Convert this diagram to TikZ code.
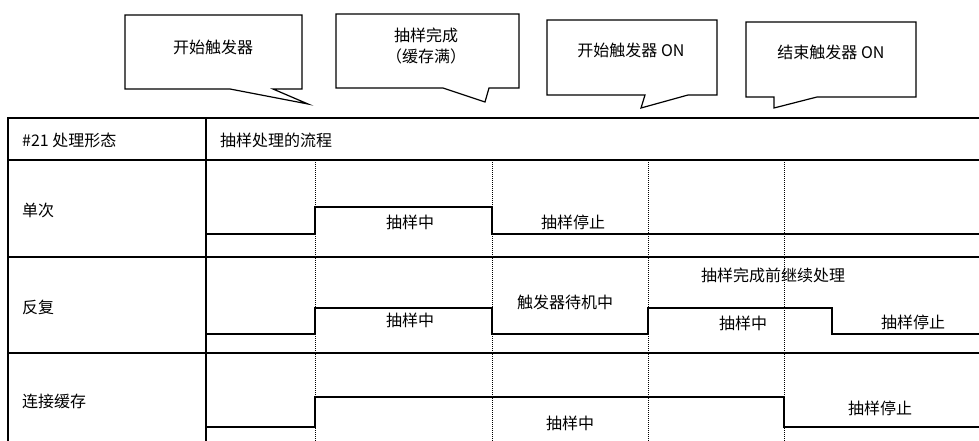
\documentclass[tikz,border=0pt]{standalone}
\usepackage{fontspec}
\setmainfont{Noto Sans CJK SC}

\begin{document}
\begin{tikzpicture}[x=1pt,y=-1pt,
    tbl/.style={line width=2pt},
    sig/.style={line width=1.4pt},
    guide/.style={dash pattern=on 1pt off 1pt,line width=1pt},
    bubble/.style={line width=1.2pt,line join=miter},
    lbl/.style={inner sep=0pt,font=\fontsize{16}{18}\selectfont}]
    \useasboundingbox (0,0) rectangle (979,441);
    % callouts
    \draw[bubble] (230,89) -- (125,89) -- (125,15) -- (302,15) -- (302,89) -- (273,89) -- (308,104) -- cycle;
    \draw[bubble] (443,88) -- (336,88) -- (336,14) -- (519,14) -- (519,88) -- (489,88) -- (485,102) -- cycle;
    \draw[bubble] (645,95) -- (547,95) -- (547,20) -- (717,20) -- (717,95) -- (688,95) -- (641,108) -- cycle;
    \draw[bubble] (774,97) -- (746,97) -- (746,22) -- (916,22) -- (916,97) -- (817,97) -- (774,108) -- cycle;
    \node[lbl] (trigstart) at (213,47) {开始触发器};
    \node[lbl] (sampdone) at (426,35) {抽样完成};
    \node[lbl] (buffull) at (426,56) {（缓存满）};
    \node[lbl] (starton) at (631,50) {开始触发器 ON};
    \node[lbl] (endon) at (831,52) {结束触发器 ON};
    % table
    \draw[tbl] (979,118) -- (8,118) -- (8,441);
    \draw[tbl] (206,118) -- (206,441);
    \foreach \y in {160,257,353}
        \draw[tbl] (8,\y) -- (979,\y);
    \foreach \x in {315,492,648,784}
        \draw[guide] (\x,160) -- (\x,441);
    \node[lbl,anchor=west] (hdmode) at (22,140) {\#21 处理形态};
    \node[lbl,anchor=west] (hdflow) at (220,140) {抽样处理的流程};
    \node[lbl,anchor=west] (single) at (22,210) {单次};
    \node[lbl,anchor=west] (repeat) at (22,307) {反复};
    \node[lbl,anchor=west] (contbuf) at (22,401) {连接缓存};
    % signals
    \draw[sig] (206,234) -| (315,207) -| (492,234) -- (979,234);
    \draw[sig] (206,334) -| (315,308) -| (492,334) -| (648,308) -| (832,334) -- (979,334);
    \draw[sig] (206,427) -| (315,397) -| (784,427) -- (979,427);
    \node[lbl] (s1run) at (410,222) {抽样中};
    \node[lbl] (s1stop) at (573,222) {抽样停止};
    \node[lbl] (r1run) at (410,320) {抽样中};
    \node[lbl] (r1wait) at (565,302) {触发器待机中};
    \node[lbl] (r2run) at (743,323) {抽样中};
    \node[lbl] (r2stop) at (913,322) {抽样停止};
    \node[lbl] (rkeep) at (773,275) {抽样完成前继续处理};
    \node[lbl] (c1run) at (570,423) {抽样中};
    \node[lbl] (c1stop) at (880,408) {抽样停止};
\end{tikzpicture}
\end{document}
